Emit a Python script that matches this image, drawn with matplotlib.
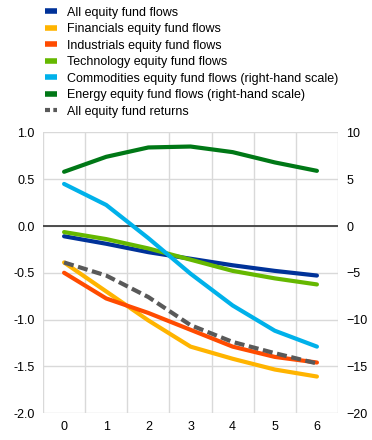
import numpy as np
import matplotlib
matplotlib.use("Agg")
import matplotlib.pyplot as plt
from matplotlib.lines import Line2D

plt.rcParams['font.family'] = ['Liberation Sans', 'DejaVu Sans']

# data
x = [0, 1, 2, 3, 4, 5, 6]
all_flows = [-0.11, -0.19, -0.28, -0.35, -0.42, -0.48, -0.53]
financials = [-0.39, -0.70, -1.01, -1.29, -1.42, -1.535, -1.61]
industrials = [-0.50, -0.775, -0.93, -1.11, -1.29, -1.40, -1.46]
technology = [-0.065, -0.14, -0.24, -0.36, -0.48, -0.56, -0.625]
commodities = [4.5, 2.25, -1.3, -5.1, -8.5, -11.2, -12.9]   # right-hand scale
energy = [5.8, 7.4, 8.4, 8.5, 7.9, 6.8, 5.9]                # right-hand scale
returns = [-0.39, -0.53, -0.76, -1.06, -1.24, -1.36, -1.47]

labels = ["All equity fund flows", "Financials equity fund flows",
          "Industrials equity fund flows", "Technology equity fund flows",
          "Commodities equity fund flows (right-hand scale)",
          "Energy equity fund flows (right-hand scale)",
          "All equity fund returns"]
colors = ["#003299", "#ffb400", "#ff4b00", "#65b800", "#00b1ea", "#007816", "#595959"]

fig = plt.figure(figsize=(3.72, 4.40), dpi=100)
ax = fig.add_axes([43/372, 27/440, 295/372, 280.5/440])
ax2 = ax.twinx()

lw = 3.0
ax.plot(x, all_flows, color=colors[0], lw=lw, solid_capstyle='round', zorder=3)
ax.plot(x, technology, color=colors[3], lw=lw, solid_capstyle='round', zorder=3)
ax.plot(x, financials, color=colors[1], lw=lw, solid_capstyle='round', zorder=3)
ax.plot(x, industrials, color=colors[2], lw=lw, solid_capstyle='round', zorder=3)
ax.plot(x, returns, color=colors[6], lw=lw, ls=(0, (2.4, 1.1)), zorder=4)
ax2.plot(x, commodities, color=colors[4], lw=lw, solid_capstyle='round')
ax2.plot(x, energy, color=colors[5], lw=lw, solid_capstyle='round')

ax.axhline(0, color="#404040", lw=1.3, zorder=2)

ax.set_xlim(-0.5, 6.5)
ax.set_ylim(-2.0, 1.0)
ax2.set_ylim(-20, 10)
ax.set_yticks(np.arange(-2.0, 1.01, 0.5))
ax.set_yticklabels([f"{v:.1f}" for v in np.arange(-2.0, 1.01, 0.5)])
ax2.set_yticks(np.arange(-20, 11, 5))
ax.set_xticks(x)
ax.set_xticks(np.arange(-0.5, 6.6, 1), minor=True)

ax.grid(True, which='major', axis='y', color="#d9d9d9", lw=1.0, zorder=0)
ax.grid(True, which='minor', axis='x', color="#d9d9d9", lw=1.0, zorder=0)
ax.set_axisbelow(True)

for a in (ax, ax2):
    for s in a.spines.values():
        s.set_visible(False)
    a.tick_params(which='both', length=0, labelsize=9, colors="#000000", pad=6)

handles = []
for i, c in enumerate(colors):
    if i == 6:
        handles.append(Line2D([], [], color=c, lw=3, ls=(0, (1.2, 0.8))))
    else:
        handles.append(Line2D([], [], color=c, lw=4, solid_capstyle='butt'))
fig.legend(handles, labels, loc='upper left', bbox_to_anchor=(38/372, 1.0),
           frameon=False, fontsize=9, handlelength=1.0, handletextpad=0.75,
           labelspacing=0.36, borderaxespad=0.15)

fig.savefig("out.png", dpi=100)
